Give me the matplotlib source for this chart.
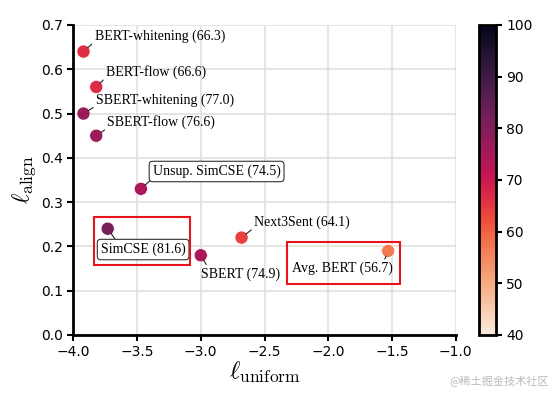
import matplotlib
matplotlib.use("Agg")
import matplotlib.pyplot as plt
import seaborn as sns
from matplotlib.patches import Rectangle

models = ["BERT-whitening", "BERT-flow", "SBERT-whitening", "SBERT-flow",
          "Unsup. SimCSE", "SimCSE", "SBERT", "Next3Sent", "Avg. BERT"]
uniform = [-3.92, -3.82, -3.92, -3.82, -3.47, -3.73, -3.00, -2.68, -1.53]
align = [0.64, 0.56, 0.50, 0.45, 0.33, 0.24, 0.18, 0.22, 0.19]
stsb = [66.3, 66.6, 77.0, 76.6, 74.5, 81.6, 74.9, 64.1, 56.7]

# label offsets (points), alignment, arrow attach point, boxed?
offsets = [(8, 11, "left", (0, 0.1), False), (7, 11, "left", (0, 0.1), False),
           (9, 9.5, "left", (0, 0.1), False), (8, 9.5, "left", (0, 0.1), False),
           (8.5, 12.5, "left", (0, 0), True), (-5, -15, "left", (0.2, 1), True),
           (0, -13.5, "left", (0.1, 0.9), False), (9, 11, "left", (0, 0.1), False),
           (3.6, -12.7, "right", (0.9, 0.9), False)]

plt.rcParams["mathtext.fontset"] = "cm"

fig = plt.figure(figsize=(5.54, 3.93), dpi=100)
ax = fig.add_axes([0.1323, 0.1476, 0.6903, 0.7888])
cax = fig.add_axes([0.8646, 0.1476, 0.0301, 0.7888])

cmap = sns.color_palette("rocket_r", as_cmap=True)
sc = ax.scatter(uniform, align, c=stsb, cmap=cmap, vmin=40, vmax=100, s=90,
                edgecolors="white", linewidths=0.5, zorder=3)

for name, x, y, v, (dx, dy, ha, rp, boxed) in zip(models, uniform, align, stsb, offsets):
    bbox = dict(boxstyle="round,pad=0.25", fc="white", ec="#333333", lw=0.8) if boxed else None
    ax.annotate(f"{name} ({v})", (x, y), xytext=(dx, dy), textcoords="offset points",
                ha=ha, va="center", fontsize=10, family="Liberation Serif", bbox=bbox,
                arrowprops=dict(arrowstyle="-", color="#222222", lw=0.8, relpos=rp,
                                shrinkA=0, shrinkB=4), zorder=4)

# red highlight boxes around SimCSE and Avg. BERT
for i, (x0, x1, y0, y1) in [(5, (-0.105, 0.645, -0.083, 0.026)), (8, (-0.79, 0.09, -0.075, 0.020))]:
    ax.add_patch(Rectangle((uniform[i] + x0, align[i] + y0), x1 - x0, y1 - y0,
                           fill=False, ec="#e8141c", lw=1.5, zorder=5))

ax.set_xlim(-4.0, -1.0)
ax.set_ylim(0.0, 0.7)
ax.set_xticks([-4.0, -3.5, -3.0, -2.5, -2.0, -1.5, -1.0])
ax.grid(True, color="#e0e0e0", lw=1.2, zorder=0)
ax.set_axisbelow(True)
for s in ["top", "right"]:
    ax.spines[s].set_visible(False)
for s in ["left", "bottom"]:
    ax.spines[s].set_linewidth(2)
ax.tick_params(width=1.5, length=4, labelsize=10)
ax.set_xlabel(r"$\ell_{\rm uniform}$", fontsize=18, labelpad=0)
ax.set_ylabel(r"$\ell_{\rm align}$", fontsize=18, labelpad=2)

cb = fig.colorbar(sc, cax=cax)
cb.set_ticks([40, 50, 60, 70, 80, 90, 100])
cb.outline.set_linewidth(2)
cax.tick_params(width=1.5, length=4, labelsize=10)

fig.text(0.99, 0.015, "@稀土掘金技术社区", ha="right", va="bottom", fontsize=8,
         color="#bbbbbb", family=["Noto Sans CJK SC", "DejaVu Sans"])

fig.savefig("out.png", dpi=100)
